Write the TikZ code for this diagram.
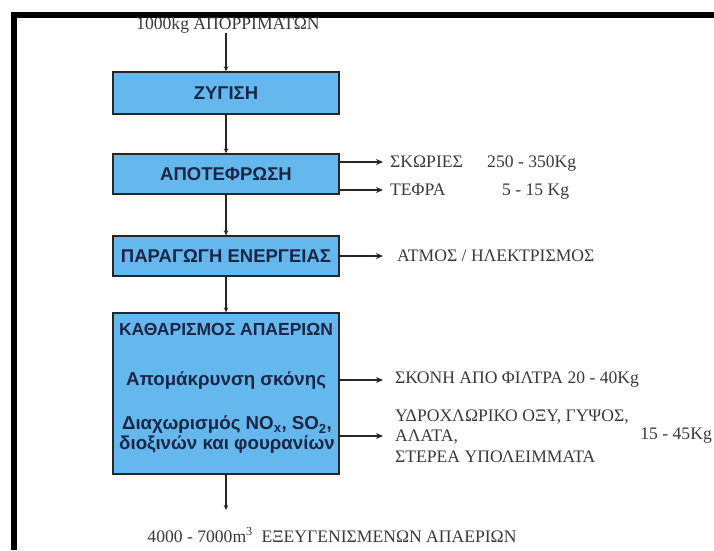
\documentclass[tikz,border=0pt]{standalone}
\usepackage{fontspec}
\setmainfont{Liberation Serif}
\newfontfamily\boxfont{Liberation Sans}
\usepackage{xcolor}
\usetikzlibrary{arrows.meta, positioning, calc}
\definecolor{boxblue}{RGB}{100,184,238}
\definecolor{boxtext}{RGB}{28,38,68}
\definecolor{outgray}{RGB}{58,58,58}

\begin{document}
\begin{tikzpicture}[x=1pt,y=-1pt,>=Stealth,
    stage/.style={draw=black!85, line width=1.4pt, fill=boxblue,
      minimum width=226pt, inner sep=0pt, text=boxtext,
      font=\boxfont\bfseries\fontsize{18.5}{20}\selectfont},
    subtext/.style={inner sep=0pt, align=center, text=boxtext,
      font=\boxfont\bfseries\fontsize{18.7}{20}\selectfont},
    outtext/.style={inner sep=0pt, text=outgray,
      font=\fontsize{17.6}{20.5}\selectfont},
    flow/.style={->, line width=1.3pt, draw=black!85,
      >={Stealth[length=5pt,width=4.5pt]}},
    outarrow/.style={->, line width=1.3pt, draw=black!85, shorten >=7pt,
      >={Stealth[length=7pt,width=6pt]}}]
    \useasboundingbox (0,0) rectangle (714,550);

    % frame
    \draw[line width=6pt, line join=miter] (714,15) -- (14,15) -- (14,550);

    % main stages
    \node[outtext] (src) at (228,25) {1000kg ΑΠΟΡΡΙΜΑΤΩΝ};
    \node[stage, minimum height=42pt] (zyg) at (226,93) {ΖΥΓΙΣΗ};
    \node[stage, minimum height=40pt] (apo) at (226,174) {ΑΠΟΤΕΦΡΩΣΗ};
    \node[stage, minimum height=40pt] (par) at (226,256) {ΠΑΡΑΓΩΓΗ ΕΝΕΡΓΕΙΑΣ};
    \node[stage, minimum height=161pt] (kath) at (226,393.5) {};
    \node[subtext, font=\boxfont\bfseries\fontsize{17.5}{20}\selectfont]
      (kathtitle) at (226,329) {ΚΑΘΑΡΙΣΜΟΣ ΑΠΑΕΡΙΩΝ};
    \node[subtext] (dust) at (226,381) {Απομάκρυνση σκόνης};
    \node[subtext] (scrub) at (227,435)
      {Διαχωρισμός NO\textsubscript{x}, SO\textsubscript{2},\\διοξινών και φουρανίων};
    \coordinate (gasend) at (226,510);
    \node[outtext] (out) at (332,535)
      {4000 - 7000m\textsuperscript{3}\ \ ΕΞΕΥΓΕΝΙΣΜΕΝΩΝ ΑΠΑΕΡΙΩΝ};

    % by-products
    \node[outtext, anchor=west] (skor) at (390,162) {ΣΚΩΡΙΕΣ};
    \node[outtext, anchor=base west] (skorkg) at (skor.base -| 487,0) {250 - 350Kg};
    \node[outtext, anchor=west] (tefra) at (390,190) {ΤΕΦΡΑ};
    \node[outtext, anchor=base west] (tefrakg) at (tefra.base -| 502,0) {5 - 15 Kg};
    \node[outtext, anchor=west] (atmos) at (397,256) {ΑΤΜΟΣ / ΗΛΕΚΤΡΙΣΜΟΣ};
    \node[outtext, anchor=west] (skoni) at (395,380) {ΣΚΟΝΗ ΑΠΟ ΦΙΛΤΡΑ 20 - 40Kg};
    \node[outtext, anchor=west, align=left] (ydro) at (395,436)
      {ΥΔΡΟΧΛΩΡΙΚΟ ΟΞΥ, ΓΥΨΟΣ,\\ΑΛΑΤΑ,\\ΣΤΕΡΕΑ ΥΠΟΛΕΙΜΜΑΤΑ};
    \node[outtext, anchor=east] (ydrokg) at (712,436) {15 - 45Kg};

    % flow arrows
    \draw[flow] (zyg.north |- src.south) -- (zyg.north);
    \draw[flow] (zyg) -- (apo);
    \draw[flow] (apo) -- (par);
    \draw[flow] (par) -- (kath);
    \draw[flow] (kath) -- (gasend);

    % side arrows
    \draw[outarrow] (apo.east |- skor.west) -- (skor.west);
    \draw[outarrow] (apo.east |- tefra.west) -- (tefra.west);
    \draw[outarrow, shorten >=14pt] (par.east |- atmos.west) -- (atmos.west);
    \draw[outarrow, shorten >=12pt] (kath.east |- skoni.west) -- (skoni.west);
    \draw[outarrow, shorten >=12pt] (kath.east |- ydro.west) -- (ydro.west);
  \end{tikzpicture}
\end{document}
